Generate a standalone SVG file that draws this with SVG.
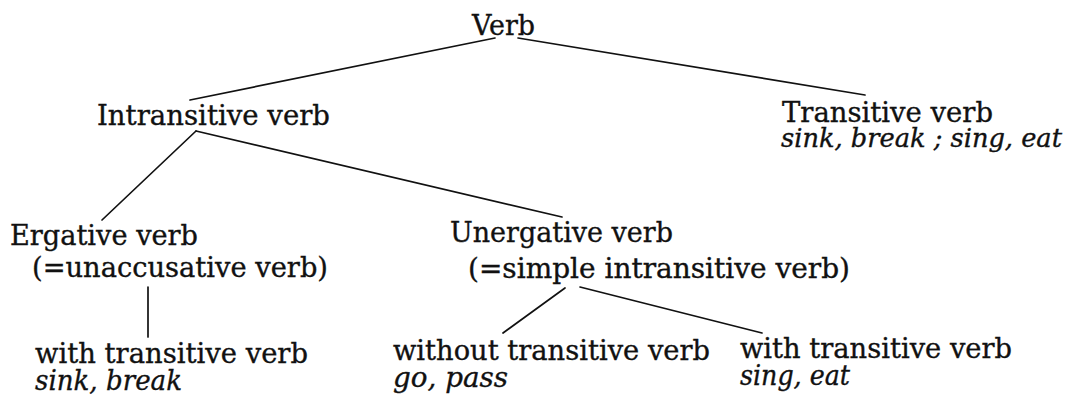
<svg xmlns="http://www.w3.org/2000/svg" width="1071" height="402" viewBox="0 0 1071 402">
<style>
text{font-family:"DejaVu Serif","Liberation Serif",serif;font-size:27px;fill:#111;stroke:#111;stroke-width:0.35}
.it{font-style:italic}
.sm{font-size:25.5px}
.ln{stroke:#111;stroke-width:1.7;fill:none;stroke-linecap:round}
</style>
<rect width="1071" height="402" fill="#fff"/>
<g id="connectors">
<line class="ln" x1="495" y1="38" x2="190" y2="100"/>
<line class="ln" x1="518" y1="38" x2="865" y2="95"/>
<line class="ln" x1="196" y1="131" x2="102" y2="220"/>
<line class="ln" x1="196" y1="131" x2="562" y2="217"/>
<line class="ln" x1="148" y1="287" x2="148" y2="337"/>
<line class="ln" x1="565" y1="288" x2="503" y2="333"/>
<line class="ln" x1="580" y1="287" x2="762" y2="333"/>
</g>
<g id="verb"><text x="472" y="35" textLength="63" lengthAdjust="spacingAndGlyphs">Verb</text></g>
<g id="intransitive"><text x="97" y="125" textLength="233" lengthAdjust="spacingAndGlyphs">Intransitive verb</text></g>
<g id="transitive">
<text x="782" y="122" textLength="211" lengthAdjust="spacingAndGlyphs">Transitive verb</text>
<text class="it sm" x="781" y="147" textLength="281" lengthAdjust="spacingAndGlyphs">sink, break ; sing, eat</text>
</g>
<g id="ergative">
<text x="10" y="245" textLength="188" lengthAdjust="spacingAndGlyphs">Ergative verb</text>
<text x="32" y="277" textLength="296" lengthAdjust="spacingAndGlyphs">(=unaccusative verb)</text>
</g>
<g id="unergative">
<text x="450" y="242" textLength="223" lengthAdjust="spacingAndGlyphs">Unergative verb</text>
<text x="468" y="278" textLength="382" lengthAdjust="spacingAndGlyphs">(=simple intransitive verb)</text>
</g>
<g id="ergative-with">
<text x="35" y="363" textLength="273" lengthAdjust="spacingAndGlyphs">with transitive verb</text>
<text class="it" x="35" y="390" textLength="147" lengthAdjust="spacingAndGlyphs">sink, break</text>
</g>
<g id="unergative-without">
<text x="393" y="360" textLength="317" lengthAdjust="spacingAndGlyphs">without transitive verb</text>
<text class="it" x="393" y="387" textLength="115" lengthAdjust="spacingAndGlyphs">go, pass</text>
</g>
<g id="unergative-with">
<text x="740" y="358" textLength="272" lengthAdjust="spacingAndGlyphs">with transitive verb</text>
<text class="it" x="740" y="385" textLength="110" lengthAdjust="spacingAndGlyphs">sing, eat</text>
</g>
</svg>
